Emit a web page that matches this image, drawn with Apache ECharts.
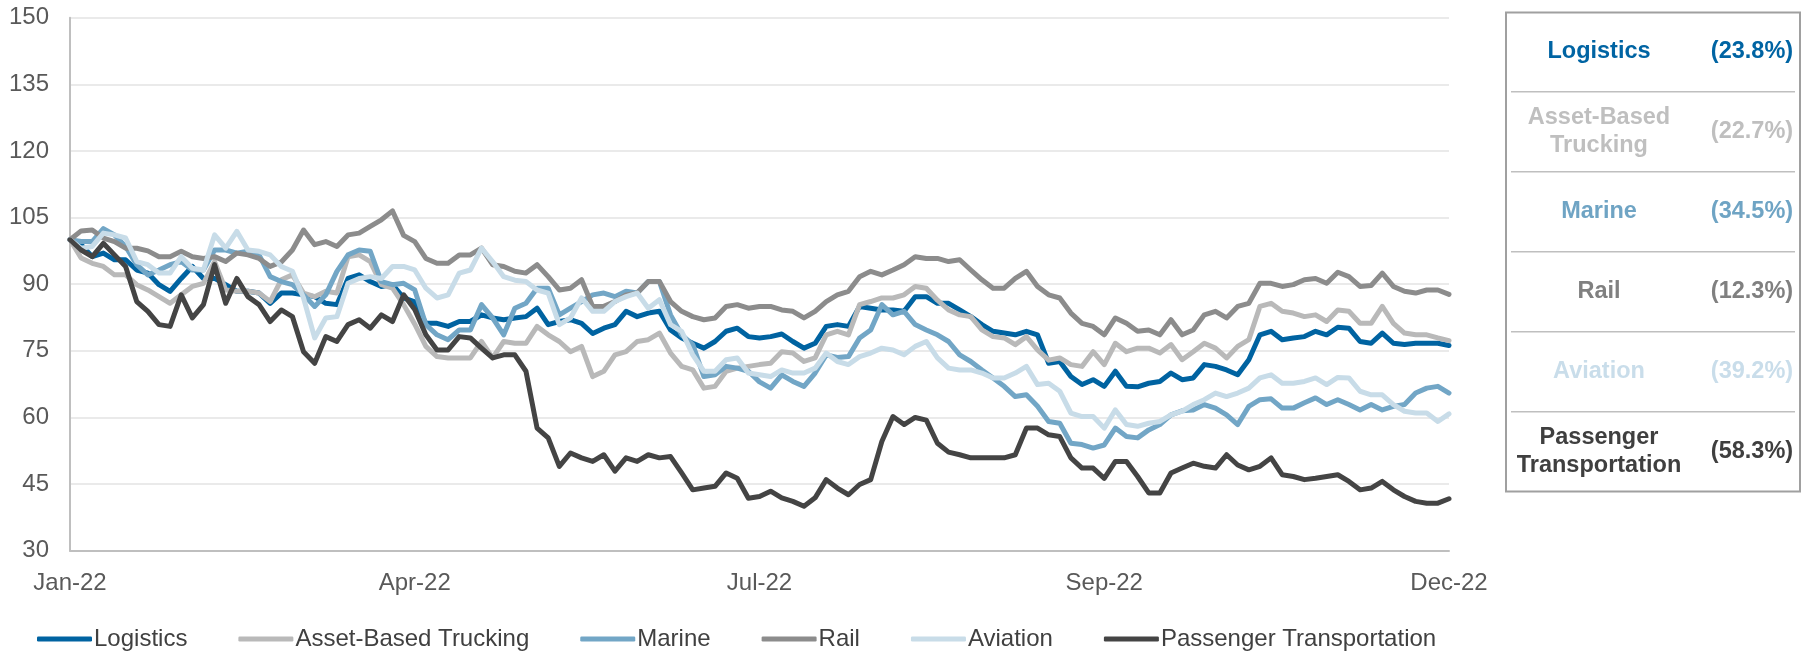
<!DOCTYPE html>
<html>
<head>
<meta charset="utf-8">
<script src="https://cdn.jsdelivr.net/npm/echarts@6/dist/echarts.min.js"></script>
<style>
  html, body { margin: 0; padding: 0; background: #ffffff; }
  #chart { width: 1806px; height: 654px; }
</style>
</head>
<body>
<div id="chart"></div>
<script>
// Indexed share performance by transportation segment, 2022 (rebased to 100)
const seriesNames = ['Logistics', 'Asset-Based Trucking', 'Marine', 'Rail', 'Aviation', 'Passenger Transportation'];
const tableNames = ['Logistics', 'Asset-Based\nTrucking', 'Marine', 'Rail', 'Aviation', 'Passenger\nTransportation'];
const ytdChange = [-23.8, -22.7, -34.5, -12.3, -39.2, -58.3];

const tickLabels = ['Jan-22', 'Apr-22', 'Jul-22', 'Sep-22', 'Dec-22'];
const tickStep = 31;

const logistics = [
  100, 98.9, 96.2, 97, 95.5, 95.5, 93.2, 92.5, 89.9, 88.4, 91.3, 94, 91.3, 91.3, 89.9, 88.4, 88.4, 88, 85.7, 88, 88, 87.6, 87.2, 85.7, 85.4, 91.3, 92.1, 90.6, 89.5, 89.9, 86.9, 86,
  81.2, 81.2, 80.5, 81.6, 81.6, 83.1, 82.4, 82, 82.4, 82.7, 84.6, 80.9, 81.6, 82, 81.2, 78.9, 80.1, 80.9, 83.9, 82.7, 83.5, 83.9, 79.7, 77.9, 76.7, 75.6, 77.1, 79.4, 80.1, 78.2, 77.9,
  78.2, 78.8, 77.1, 75.6, 76.7, 80.5, 80.9, 80.5, 85, 84.6, 84.2, 84.2, 83.9, 87.2, 87.2, 85.7, 85.7, 84.2, 82.7, 80.9, 79.4, 79, 78.6, 79.4, 78.6, 72.2, 72.6, 69.2, 67.4, 68.5, 67,
  70.4, 67, 66.9, 67.7, 68.1, 70, 68.5, 68.9, 71.9, 71.5, 70.7, 69.6, 73, 78.6, 79.4, 77.5, 77.9, 78.2, 79.4, 78.6, 80.3, 80.1, 77.1, 76.7, 79, 76.7, 76.4, 76.7, 76.7, 76.7, 76.2
];
const trucking = [
  100, 95.9, 94.7, 94, 92.1, 92.1, 89.9, 88.7, 87.2, 85.7, 87.6, 89.5, 90.2, 95.1, 88.7, 88.4, 88.4, 88, 86.1, 91, 92.1, 88, 87.2, 88.4, 88, 96.2, 96.6, 95.1, 89.9, 89.1, 85.4, 81,
  76, 73.7, 73.4, 73.4, 73.4, 77.1, 73.4, 77.1, 76.7, 76.7, 80.5, 78.6, 77.1, 74.8, 76, 69.2, 70.4, 74.1, 74.8, 77.1, 77.5, 79, 74.5, 71.5, 70.7, 66.6, 67, 70.4, 71.1, 71.5, 71.9,
  72.2, 74.8, 74.5, 72.6, 73.4, 78.6, 79.4, 78.6, 85.4, 86.1, 86.9, 86.9, 87.6, 89.5, 89.1, 86.4, 84.2, 83.1, 82.7, 79.7, 78.2, 77.9, 76.4, 78.2, 75.2, 72.9, 73.4, 71.9, 71.5, 74.8, 71.9,
  76.7, 74.8, 75.6, 75.6, 74.5, 76.4, 73, 74.8, 76.7, 75.6, 73.4, 76, 77.5, 85, 85.7, 83.9, 83.5, 82.7, 83.1, 81.6, 84.2, 83.9, 81.2, 81.2, 85, 81.2, 79, 78.6, 78.6, 77.9, 77.3
];
const marine = [
  100, 99.6, 99.6, 102.5, 101.1, 98.5, 94.4, 92.1, 93.2, 94.4, 95.1, 93.2, 93.2, 97.7, 97.7, 97, 97.4, 96.6, 91.7, 90.6, 89.9, 87.6, 85, 87.6, 92.9, 96.6, 97.7, 97.4, 90.6, 89.9, 90.2, 88.7,
  80.9, 78.6, 77.5, 79.7, 79.7, 85.4, 82.4, 78.6, 84.6, 85.7, 89.1, 89.1, 83.1, 84.6, 86.1, 87.6, 88, 87.2, 88.4, 88, 90.6, 90.6, 83.1, 78.6, 76.4, 69.2, 69.6, 71.5, 71.1, 70.4, 68,
  66.6, 69.6, 68.1, 67, 70, 74.1, 73.5, 73.7, 77.9, 79.7, 85.4, 83.1, 83.9, 80.9, 79.7, 78.6, 77.1, 74.1, 72.6, 70.7, 68.9, 67, 64.7, 65.1, 62.5, 59.1, 58.7, 54.2, 53.9, 53.1, 53.8,
  57.6, 55.7, 55.4, 57.2, 58.4, 60.6, 61.5, 61.7, 62.9, 62.1, 60.6, 58.4, 62.5, 64, 64.2, 62.1, 62.1, 63.3, 64.4, 62.9, 64, 62.9, 61.7, 62.9, 61.7, 62.5, 62.9, 65.5, 66.6, 67, 65.5
];
const rail = [
  100, 102, 102.2, 100.4, 99.6, 98.1, 98.1, 97.5, 96.2, 96.2, 97.4, 96.2, 95.8, 96.2, 95.1, 97, 96.6, 95.8, 94, 95, 97.7, 102.2, 98.9, 99.6, 98.5, 101.1, 101.5, 103, 104.5, 106.5, 101, 99.6,
  95.8, 94.7, 94.7, 96.6, 96.6, 98.1, 94.4, 94, 92.9, 92.5, 94.4, 91.7, 88.7, 89.1, 91, 85, 85, 86.1, 87.6, 88, 90.6, 90.6, 86.1, 83.9, 82.7, 82, 82.4, 85, 85.4, 84.6, 85,
  85, 84.2, 83.9, 82.4, 83.9, 86.1, 87.6, 88.4, 91.7, 92.9, 92.1, 93.2, 94.4, 96.2, 95.8, 95.8, 95.1, 95.5, 93.2, 91, 89.1, 89.1, 91.3, 92.9, 89.5, 87.6, 86.9, 83.5, 81.2, 80.5, 78.6,
  82.4, 81.2, 79.4, 79.7, 78.6, 82, 78.6, 79.7, 83.1, 83.9, 82.4, 85, 85.7, 90.2, 90.2, 89.5, 89.9, 91, 91.3, 90.2, 92.7, 91.7, 89.5, 89.7, 92.5, 89.5, 88.4, 88, 88.7, 88.7, 87.7
];
const aviation = [
  100, 98.1, 98.5, 101.5, 101.1, 100.4, 95.1, 94.4, 92.5, 92.5, 96.2, 93.6, 93.2, 101.1, 98.1, 101.9, 97.7, 97.4, 96.6, 94, 92.9, 86.9, 77.9, 82.4, 82.7, 90.2, 91.3, 91.7, 91.3, 94, 94, 93.2,
  89.1, 86.9, 87.6, 92.5, 93.2, 98.1, 95.1, 91.7, 90.9, 90.6, 88.7, 88, 80.9, 82.4, 86.9, 83.9, 83.9, 86.1, 87.2, 88, 84.6, 86.5, 80.9, 79.4, 74.1, 70.4, 70.4, 73, 73.4, 70, 69.6,
  69.2, 70.7, 70, 70, 71.1, 74.5, 72.6, 71.9, 73.7, 74.5, 75.6, 75.2, 74.1, 76, 77.1, 73.4, 71.1, 70.7, 70.7, 70, 68.9, 68.9, 70, 71.5, 67.4, 67.7, 65.9, 61, 60.2, 60.2, 57.6,
  61.7, 58.4, 58, 58.7, 59.1, 60.6, 61.4, 62.9, 64, 65.5, 64.7, 65.5, 66.6, 68.9, 69.6, 67.7, 67.7, 68.1, 68.9, 67.4, 69, 68.9, 65.9, 65.1, 65.1, 62.9, 61.4, 61, 61, 59.1, 60.8
];
const passenger = [
  100, 97.7, 96.2, 99.2, 96.6, 94, 86.1, 83.9, 80.9, 80.5, 87.6, 82.4, 85.4, 94.4, 85.7, 91.3, 87.2, 85.4, 81.6, 84.2, 82.7, 74.8, 72.2, 78.2, 77.1, 80.9, 82, 80.1, 83.1, 81.6, 87.6, 84.3,
  78.6, 75.2, 75.2, 78.2, 77.9, 75.6, 73.4, 74.1, 74.1, 70.4, 57.6, 55.4, 49, 52, 50.9, 50.1, 51.6, 47.9, 50.9, 50.1, 51.6, 50.9, 51.2, 47.5, 43.7, 44.1, 44.5, 47.5, 46.3, 41.8, 42.2,
  43.4, 41.9, 41.1, 40, 41.9, 46, 44.1, 42.6, 44.9, 46, 54.6, 60.2, 58.4, 60, 59.4, 54.2, 52.2, 51.6, 50.9, 50.9, 50.9, 50.9, 51.6, 57.6, 57.6, 56.1, 55.7, 50.9, 48.6, 48.6, 46.3,
  50.1, 50.1, 46.7, 43, 43, 47.5, 48.6, 49.7, 49, 48.6, 51.6, 49.3, 48.2, 49, 50.9, 47.1, 46.7, 46, 46.3, 46.7, 47.1, 45.6, 43.7, 44.1, 45.6, 43.7, 42.2, 41.1, 40.7, 40.7, 41.7
];

const seriesData = [logistics, trucking, marine, rail, aviation, passenger];
const lineColors = ['#0063A1', '#B9B9B9', '#72A6C6', '#8C8C8C', '#C8DCE8', '#444444'];
const tableColors = ['#0064A3', '#BFBFBF', '#6FA4C4', '#808080', '#C9DDEA', '#3F3F3F'];

const categories = logistics.map((_, i) => (i % tickStep === 0 ? tickLabels[i / tickStep] : ''));

const FONT = '"Liberation Sans", Arial, sans-serif';
const chart = echarts.init(document.getElementById('chart'), null, { renderer: 'canvas' });

// Summary panel on the right: one row per segment with its year-to-date change
const panel = { x: 1506, y: 12.5, w: 294, h: 479 };
const rowH = 80;
const graphics = [{
  type: 'rect',
  shape: { x: panel.x, y: panel.y, width: panel.w, height: panel.h },
  style: { fill: 'none', stroke: '#A0A0A0', lineWidth: 2 },
  silent: true
}];
seriesNames.forEach((name, i) => {
  const cy = 11.7 + rowH * i + rowH / 2;
  if (i > 0) {
    graphics.push({
      type: 'line',
      shape: { x1: 1511, y1: 11.7 + rowH * i, x2: 1795, y2: 11.7 + rowH * i },
      style: { stroke: '#BFBFBF', lineWidth: 1.5 },
      silent: true
    });
  }
  graphics.push({
    type: 'text',
    x: 1599, y: cy,
    style: {
      text: tableNames[i],
      fill: tableColors[i],
      font: 'bold 23.5px ' + FONT,
      lineHeight: 28.5,
      align: 'center',
      verticalAlign: 'middle'
    },
    silent: true
  });
  graphics.push({
    type: 'text',
    x: 1752, y: cy,
    style: {
      text: '(' + Math.abs(ytdChange[i]).toFixed(1) + '%)',
      fill: tableColors[i],
      font: 'bold 23.5px ' + FONT,
      align: 'center',
      verticalAlign: 'middle'
    },
    silent: true
  });
});

chart.setOption({
  animation: false,
  backgroundColor: '#ffffff',
  textStyle: { fontFamily: FONT },
  grid: { left: 70, right: 357, top: 17.7, bottom: 103.3, containLabel: false },
  xAxis: {
    type: 'category',
    data: categories,
    boundaryGap: false,
    axisLine: { show: true, lineStyle: { color: '#BFBFBF', width: 2 } },
    axisTick: { show: false },
    axisLabel: {
      interval: (idx) => idx % tickStep === 0,
      color: '#595959',
      fontSize: 24,
      fontFamily: FONT,
      margin: 21
    },
    splitLine: { show: false }
  },
  yAxis: {
    type: 'value',
    min: 30,
    max: 150,
    interval: 15,
    axisLine: { show: true, lineStyle: { color: '#BFBFBF', width: 2 } },
    axisTick: { show: false },
    axisLabel: { color: '#595959', fontSize: 24, fontFamily: FONT, margin: 21 },
    splitLine: { show: true, lineStyle: { color: '#E3E3E3', width: 1.5 } }
  },
  legend: {
    top: 627,
    left: 37,
    padding: 0,
    itemWidth: 55,
    itemHeight: 5,
    itemGap: 51,
    icon: 'roundRect',
    textStyle: { color: '#404040', fontSize: 24, fontFamily: FONT, padding: [0, 0, 0, -3] },
    data: seriesNames
  },
  graphic: graphics,
  series: seriesNames.map((name, i) => ({
    name: name,
    type: 'line',
    data: seriesData[i],
    symbol: 'none',
    smooth: false,
    color: lineColors[i],
    lineStyle: { color: lineColors[i], width: 5, cap: 'round', join: 'round' },
    emphasis: { disabled: true },
    z: 2 + i
  }))
});
</script>
</body>
</html>
